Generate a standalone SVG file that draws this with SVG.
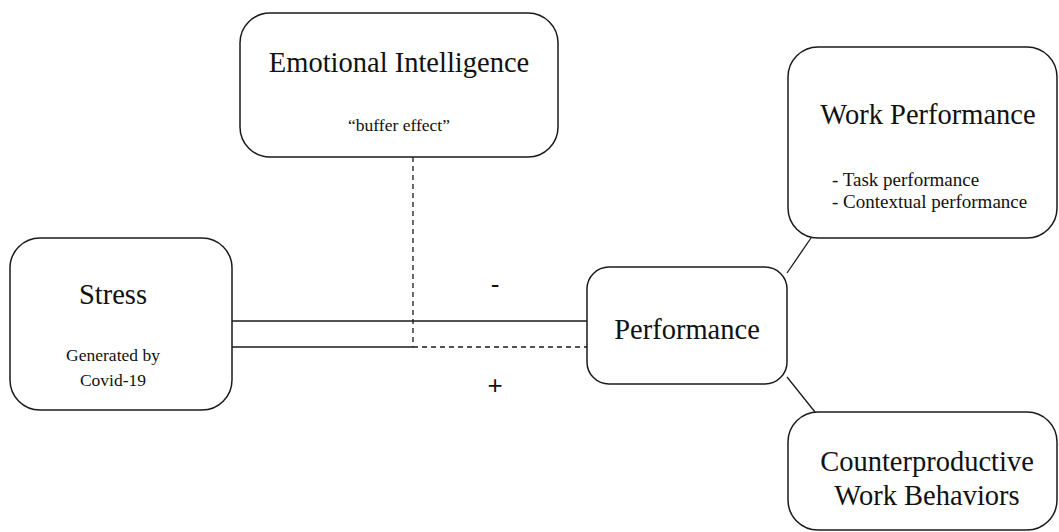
<svg xmlns="http://www.w3.org/2000/svg" width="1059" height="532" viewBox="0 0 1059 532">
<style>
.box{fill:#fff;stroke:#1a1a1a;stroke-width:1.5}
.ln{fill:none;stroke:#1a1a1a;stroke-width:1.3}
.dash{stroke-dasharray:5 4}
text{font-family:"Liberation Serif","Times New Roman",serif;fill:#111;text-anchor:middle}
.t{font-size:28.5px}
.s{font-size:17.5px}
.sl{font-size:19px;text-anchor:start}
.sg{font-size:26px;font-family:"Liberation Sans",Arial,sans-serif}
</style>
<rect width="1059" height="532" fill="#fff"/>
<g id="connectors">
<line class="ln" x1="232" y1="321" x2="587" y2="321"/>
<line class="ln" x1="232" y1="347" x2="413" y2="347"/>
<line class="ln dash" x1="413" y1="347" x2="587" y2="347"/>
<line class="ln dash" x1="413" y1="157" x2="413" y2="347"/>
<line class="ln" x1="787" y1="273" x2="811" y2="238"/>
<line class="ln" x1="787" y1="377" x2="815" y2="412"/>
<text class="sg" x="495" y="293">-</text>
<text class="sg" x="495" y="394">+</text>
</g>
<g id="emotional-intelligence">
<rect class="box" x="240" y="13" width="318" height="144" rx="30"/>
<text class="t" x="399" y="72">Emotional Intelligence</text>
<text class="s" x="399" y="131">“buffer effect”</text>
</g>
<g id="stress">
<rect class="box" x="10" y="238" width="222" height="172" rx="30"/>
<text class="t" x="113" y="304">Stress</text>
<text class="s" x="113" y="361">Generated by</text>
<text class="s" x="113" y="386">Covid-19</text>
</g>
<g id="performance">
<rect class="box" x="587" y="267" width="200" height="117" rx="22"/>
<text class="t" x="687" y="339">Performance</text>
</g>
<g id="work-performance">
<rect class="box" x="788" y="47" width="269" height="191" rx="30"/>
<text class="t" x="928" y="124">Work Performance</text>
<text class="sl" x="832" y="186">- Task  performance</text>
<text class="sl" x="832" y="208">- Contextual  performance</text>
</g>
<g id="counterproductive-work-behaviors">
<rect class="box" x="788" y="412" width="269" height="118" rx="30"/>
<text class="t" x="927" y="471">Counterproductive</text>
<text class="t" x="927" y="505">Work Behaviors</text>
</g>
</svg>
